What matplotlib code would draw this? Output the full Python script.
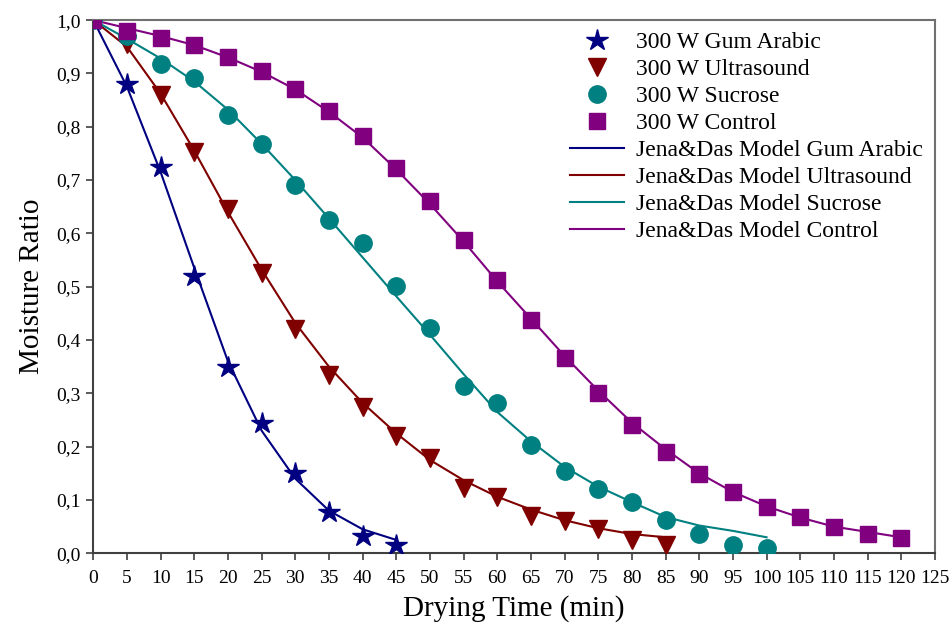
"""
Moisture ratio vs drying time at 300 W, experimental points with
Jena&Das model curves for each pre-treatment.
"""

import matplotlib
matplotlib.use("Agg")
import matplotlib.pyplot as plt
from matplotlib.ticker import FuncFormatter

t_gum = [0, 5, 10, 15, 20, 25, 30, 35, 40, 45]
mr_gum = [1.0, 0.88, 0.725, 0.52, 0.35, 0.245, 0.15, 0.077, 0.032, 0.016]

t_ultra = [0, 5, 10, 15, 20, 25, 30, 35, 40, 45, 50, 55, 60, 65, 70, 75, 80, 85]
mr_ultra = [1.0, 0.955, 0.86, 0.752, 0.645, 0.525, 0.42, 0.335, 0.275, 0.22,
            0.178, 0.123, 0.106, 0.07, 0.06, 0.046, 0.025, 0.015]

t_sucrose = [0, 5, 10, 15, 20, 25, 30, 35, 40, 45, 50, 55, 60, 65, 70, 75, 80,
             85, 90, 95, 100]
mr_sucrose = [1.0, 0.97, 0.918, 0.892, 0.822, 0.767, 0.69, 0.625, 0.582, 0.502,
              0.422, 0.313, 0.281, 0.204, 0.154, 0.121, 0.097, 0.062, 0.037,
              0.016, 0.01]

t_control = [0, 5, 10, 15, 20, 25, 30, 35, 40, 45, 50, 55, 60, 65, 70, 75, 80,
             85, 90, 95, 100, 105, 110, 115, 120]
mr_control = [1.0, 0.98, 0.967, 0.953, 0.93, 0.905, 0.87, 0.83, 0.782, 0.722,
              0.66, 0.587, 0.512, 0.437, 0.366, 0.3, 0.24, 0.19, 0.149, 0.115,
              0.087, 0.068, 0.049, 0.037, 0.029]

# Jena&Das model predictions (same time steps)
model_gum = [1.0, 0.875, 0.715, 0.535, 0.36, 0.23, 0.14, 0.08, 0.045, 0.025]
model_ultra = [1.0, 0.95, 0.862, 0.755, 0.64, 0.532, 0.432, 0.35, 0.282, 0.225,
               0.175, 0.137, 0.106, 0.082, 0.062, 0.047, 0.036, 0.03]
model_sucrose = [1.0, 0.965, 0.928, 0.885, 0.832, 0.768, 0.7, 0.628, 0.555,
                 0.482, 0.41, 0.336, 0.265, 0.21, 0.162, 0.125, 0.096, 0.068,
                 0.052, 0.042, 0.03]
model_control = [1.0, 0.985, 0.97, 0.953, 0.93, 0.903, 0.87, 0.828, 0.78, 0.72,
                 0.655, 0.585, 0.51, 0.44, 0.37, 0.305, 0.245, 0.195, 0.15,
                 0.115, 0.088, 0.067, 0.05, 0.04, 0.03]

x_ticks = list(range(0, 130, 5))
y_ticks = [i / 10 for i in range(11)]

NAVY, DRED, TEAL, PURPLE = "#000080", "#800000", "#008080", "#800080"

plt.rcParams["font.family"] = ["Liberation Serif", "DejaVu Serif"]

fig = plt.figure(figsize=(9.52, 6.28), dpi=100)
ax = fig.add_axes([0.098, 0.119, 0.884, 0.849])

# markers first (legend order)
ax.plot(t_gum, mr_gum, ls="none", marker="*", ms=16, color=NAVY,
        label="300 W Gum Arabic", zorder=3)
ax.plot(t_ultra, mr_ultra, ls="none", marker="v", ms=12.5, color=DRED,
        label="300 W Ultrasound", zorder=3)
ax.plot(t_sucrose, mr_sucrose, ls="none", marker="o", ms=12.5, color=TEAL,
        label="300 W Sucrose", zorder=3)
ax.plot(t_control, mr_control, ls="none", marker="s", ms=11.5, color=PURPLE,
        label="300 W Control", zorder=3)

ax.plot(t_gum, model_gum, lw=1.5, color=NAVY, label="Jena&Das Model Gum Arabic")
ax.plot(t_ultra, model_ultra, lw=1.5, color=DRED, label="Jena&Das Model Ultrasound")
ax.plot(t_sucrose, model_sucrose, lw=1.5, color=TEAL, label="Jena&Das Model Sucrose")
ax.plot(t_control, model_control, lw=1.5, color=PURPLE, label="Jena&Das Model Control")

ax.set_xlim(0, 125)
ax.set_ylim(0, 1.0)
ax.set_xticks(x_ticks)
ax.set_yticks(y_ticks)
ax.yaxis.set_major_formatter(FuncFormatter(lambda v, p: f"{v:.1f}".replace(".", ",")))
ax.tick_params(axis="both", labelsize=14, direction="out", length=5,
               width=1.2, color="#404040")
ax.tick_params(axis="x", pad=7)
ax.tick_params(axis="y", pad=4)

for side in ("left", "bottom"):
    ax.spines[side].set_color("#404040")
    ax.spines[side].set_linewidth(1.5)
for side in ("top", "right"):
    ax.spines[side].set_color("#707070")
    ax.spines[side].set_linewidth(1.5)

ax.set_xlabel("Drying Time (min)", fontsize=21, labelpad=6)
ax.set_ylabel("Moisture Ratio", fontsize=21, labelpad=8)

ax.legend(loc="upper right", bbox_to_anchor=(1.0, 1.0), frameon=False,
          fontsize=17, handlelength=2.3, handletextpad=0.5,
          labelspacing=0.23, borderaxespad=0.1)

plt.savefig("out.png", dpi=100)
plt.close()
